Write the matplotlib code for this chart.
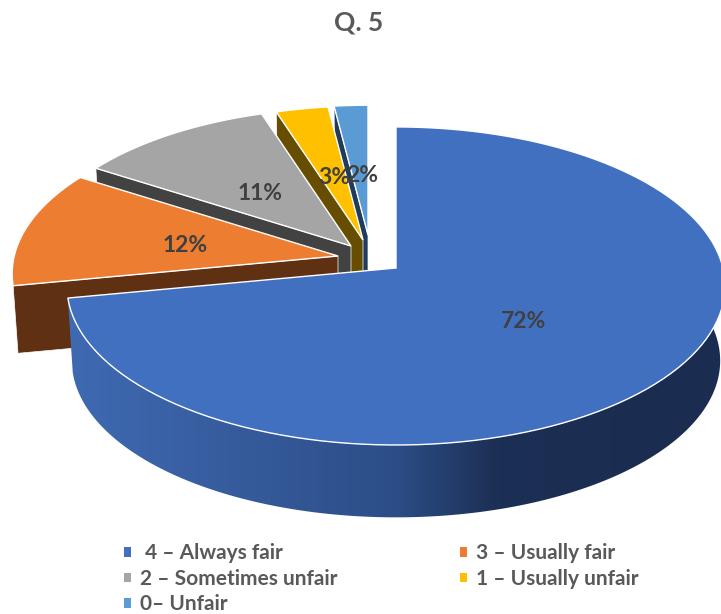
import numpy as np
import matplotlib
matplotlib.use("Agg")
import matplotlib.pyplot as plt
from matplotlib.colors import LinearSegmentedColormap
from matplotlib.patches import Patch, Polygon

categories = [" 4 – Always fair", "3 – Usually fair", "2 – Sometimes unfair",
              "1 – Usually unfair", "0– Unfair"]
values = [72, 12, 11, 3, 2]
colors = ["#4270c0", "#ed7d31", "#a5a5a5", "#ffc000", "#5b9bd5"]
side_colors = ["#2f5597", "#5f3011", "#424242", "#664d00", "#1f3c5c"]

# layout in image pixels: slice apex, size factor, wall depth
apex = [(396, 268), (338, 256), (351, 246), (363, 240), (368, 235)]
scale = [1.0, 0.99, 0.98, 0.95, 0.92]
depth = [75, 68, 68, 68, 68]
label_pos = [(524, 321), (185, 246), (260, 194), (334, 178), (362, 175)]

# perspective of the disc
B = 327
A = 157
K = 0.113

plt.rcParams['font.family'] = ['Lato', 'DejaVu Sans']
TEXT = "#404040"


def project(theta, ap, s):
    # theta in degrees, clockwise from 12 o'clock
    t = np.radians(theta)
    w = 1 + K * np.cos(t)
    x = ap[0] + s * B * np.sin(t) / w
    y = ap[1] - s * A * np.cos(t) / w
    return np.column_stack([x, y])


fig = plt.figure(figsize=(7.21, 6.14), dpi=100, facecolor='white')
ax = fig.add_axes([0, 0, 1, 1])

edges = np.concatenate([[0], np.cumsum(values)]) * 360.0 / sum(values)

# back slices first, the big one goes on top
for i in range(len(values) - 1, -1, -1):
    ap, s, d = apex[i], scale[i], depth[i]
    ap_low = (ap[0], ap[1] + d)
    s_low = s * 0.985
    th0, th1 = edges[i], edges[i + 1]

    if i == 0:
        th = np.linspace(80, th1, 200)
        wall = np.vstack([project(th, ap, s), project(th[::-1], ap_low, s_low)])
        poly = Polygon(wall, closed=True, fc='none', ec='none')
        ax.add_patch(poly)
        cmap = LinearSegmentedColormap.from_list(
            "wall", [(0, "#3f6bb3"), (0.27, "#365b9c"), (0.5, "#2c4e88"),
                     (0.66, "#1c2f54"), (1, "#1a2c4f")])
        im = ax.imshow(np.linspace(0, 1, 256)[None, :], cmap=cmap, aspect='auto',
                       extent=(60, 725, 520, 250), zorder=7)
        im.set_clip_path(poly)
    else:
        p_top = project(np.array([th0]), ap, s)[0]
        p_low = project(np.array([th0]), ap_low, s_low)[0]
        ax.add_patch(Polygon([ap, p_top, p_low, ap_low], closed=True,
                             fc=side_colors[i], ec='white', lw=0.5, zorder=2 + (5 - i)))

    arc = project(np.linspace(th0, th1, 120), ap, s)
    ax.add_patch(Polygon(np.vstack([[ap], arc]), closed=True, fc=colors[i], ec='white',
                         lw=1.0, joinstyle='miter', zorder=2.5 + (5 - i)))

for pos, v in zip(label_pos, values):
    ax.text(pos[0], pos[1], f"{v}%", ha='center', va='center', fontsize=16.5,
            fontweight='bold', color=TEXT, zorder=20)

ax.set_xlim(0, 721)
ax.set_ylim(614, 0)
ax.axis('off')

ax.text(359, 22, "Q. 5", ha='center', va='center', fontsize=19, fontweight='bold',
        color="#595959")

# legend fills by column, so 4, 2, 0 then 3, 1
order = [0, 2, 4, 1, 3]
handles = [Patch(fc=colors[k], ec='none') for k in order]
labels = [categories[k] for k in order]
fig.legend(handles, labels, ncol=2, loc='lower left', bbox_to_anchor=(0.146, -0.031),
           frameon=False, labelcolor="#595959",
           prop={'weight': 'bold', 'size': 15},
           handlelength=0.34, handleheight=0.34, handletextpad=0.43,
           labelspacing=0.26, columnspacing=5.87)

fig.savefig("out.png", dpi=100)
